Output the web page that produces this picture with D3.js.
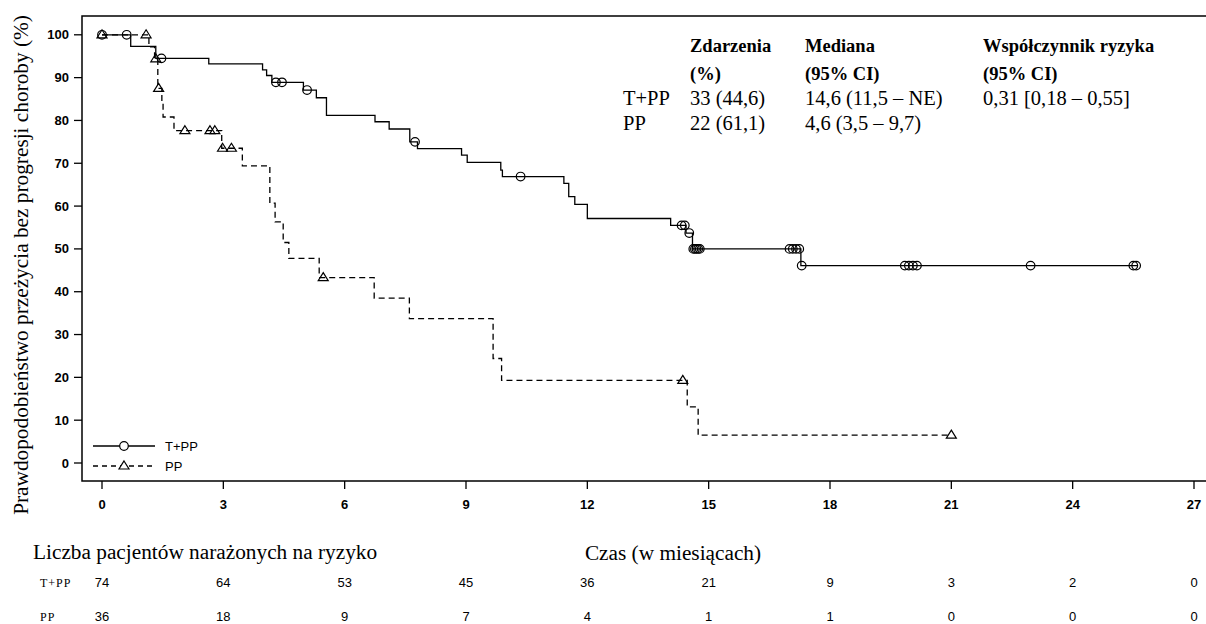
<!DOCTYPE html>
<html>
<head>
<meta charset="utf-8">
<script src="https://cdn.jsdelivr.net/npm/d3@7"></script>
<style>
  body { margin: 0; background: white; }
  svg { display: block; }
</style>
</head>
<body>
<svg class="km" width="1206" height="624"></svg>
<script>
const width = 1206;
const height = 624;
const serif = "'Liberation Serif', 'Times New Roman', serif";
const sans = "'Liberation Sans', Arial, sans-serif";

// step data: [month, survival %]
const tppTimes = [0, 0.71, 1.33, 2.64, 3.97, 4.07, 4.2, 4.98, 5.3, 5.55, 6.75, 7.1, 7.61, 7.8, 8.89, 9.03, 9.86, 9.9, 11.42, 11.54, 11.69, 12.0, 14.06, 14.44, 14.6, 17.28];
const tppSurv = [100, 97.3, 94.5, 93.2, 91.8, 90.5, 88.9, 87.1, 85.3, 81.2, 79.7, 78.0, 75.0, 73.4, 71.9, 70.2, 68.4, 66.9, 65.3, 62.2, 60.4, 57.1, 55.5, 53.7, 50.0, 46.1];
const tppEnd = 25.6;
const tppCensor = [0, 0.61, 1.47, 4.3, 4.45, 5.07, 7.74, 10.35, 14.33, 14.41, 14.52, 14.62, 14.66, 14.7, 14.74, 14.78, 17.0, 17.08, 17.16, 17.24, 17.3, 19.85, 19.95, 20.05, 20.15, 22.96, 25.5, 25.57];

const ppTimes = [0, 1.16, 1.3, 1.38, 1.48, 1.51, 1.78, 2.96, 3.47, 4.15, 4.28, 4.48, 4.62, 5.37, 6.73, 7.6, 9.67, 9.88, 14.47, 14.74];
const ppSurv = [100, 97.2, 94.4, 87.5, 84.3, 80.8, 77.6, 73.5, 69.4, 60.7, 56.3, 51.5, 47.8, 43.3, 38.5, 33.7, 24.4, 19.3, 13.1, 6.5];
const ppEnd = 21.0;
const ppCensor = [0, 1.09, 1.33, 1.4, 2.05, 2.67, 2.79, 2.98, 3.2, 5.47, 14.36, 21.0];

const xTicks = [0, 3, 6, 9, 12, 15, 18, 21, 24, 27];
const yTicks = [0, 10, 20, 30, 40, 50, 60, 70, 80, 90, 100];

const riskTpp = [74, 64, 53, 45, 36, 21, 9, 3, 2, 0];
const riskPp = [36, 18, 9, 7, 4, 1, 1, 0, 0, 0];

const statHeader1 = ["Zdarzenia", "Mediana", "Współczynnik ryzyka"];
const statHeader2 = ["(%)", "(95% CI)", "(95% CI)"];
const statTpp = ["T+PP", "33 (44,6)", "14,6 (11,5 – NE)", "0,31 [0,18 – 0,55]"];
const statPp = ["PP", "22 (61,1)", "4,6 (3,5 – 9,7)", ""];

const frame = { left: 82, top: 16, right: 1206, bottom: 481 };

const x = d3.scaleLinear().domain([0, 27]).range([102, 1194]);
const y = d3.scaleLinear().domain([0, 100]).range([463, 34.8]);

const svg = d3.select("svg.km");
svg.append("rect").attr("width", width).attr("height", height).attr("fill", "white");

// frame (open on the right, like the original)
svg.append("path")
  .attr("d", `M${frame.right},${frame.top}H${frame.left}V${frame.bottom}H${frame.right}`)
  .attr("fill", "none")
  .attr("stroke", "black")
  .attr("stroke-width", 1.5);

// x axis ticks
const xAxis = svg.append("g");
xAxis.selectAll("line")
  .data(xTicks)
  .join("line")
  .attr("x1", (d) => x(d))
  .attr("x2", (d) => x(d))
  .attr("y1", frame.bottom)
  .attr("y2", frame.bottom + 8)
  .attr("stroke", "black")
  .attr("stroke-width", 1.3);
xAxis.selectAll("text")
  .data(xTicks)
  .join("text")
  .attr("x", (d) => x(d))
  .attr("y", 509)
  .attr("text-anchor", "middle")
  .attr("font-family", sans)
  .attr("font-size", 13)
  .attr("font-weight", "bold")
  .text((d) => d);

// y axis ticks
const yAxis = svg.append("g");
yAxis.selectAll("line")
  .data(yTicks)
  .join("line")
  .attr("x1", frame.left - 8)
  .attr("x2", frame.left)
  .attr("y1", (d) => y(d))
  .attr("y2", (d) => y(d))
  .attr("stroke", "black")
  .attr("stroke-width", 1.3);
yAxis.selectAll("text")
  .data(yTicks)
  .join("text")
  .attr("x", 69)
  .attr("y", (d) => y(d) + 4.5)
  .attr("text-anchor", "end")
  .attr("font-family", sans)
  .attr("font-size", 13)
  .attr("font-weight", "bold")
  .text((d) => d);

svg.append("text")
  .attr("transform", "translate(28,265) rotate(-90)")
  .attr("text-anchor", "middle")
  .attr("font-family", serif)
  .attr("font-size", 21.3)
  .text("Prawdopodobieństwo przeżycia bez progresji choroby (%)");

svg.append("text")
  .attr("x", 673)
  .attr("y", 560)
  .attr("text-anchor", "middle")
  .attr("font-family", serif)
  .attr("font-size", 21.3)
  .text("Czas (w miesiącach)");

// curves
function steps(times, surv, end) {
  const pts = times.map((t, i) => [t, surv[i]]);
  pts.push([end, surv[surv.length - 1]]);
  return pts;
}
function survAt(times, surv, t) {
  let v = surv[0];
  times.forEach((tt, i) => { if (tt <= t) v = surv[i]; });
  return v;
}

const line = d3.line()
  .x((d) => x(d[0]))
  .y((d) => y(d[1]))
  .curve(d3.curveStepAfter);

svg.append("path")
  .attr("d", line(steps(ppTimes, ppSurv, ppEnd)))
  .attr("fill", "none")
  .attr("stroke", "black")
  .attr("stroke-width", 1.3)
  .attr("stroke-dasharray", "6,4");

svg.append("path")
  .attr("d", line(steps(tppTimes, tppSurv, tppEnd)))
  .attr("fill", "none")
  .attr("stroke", "black")
  .attr("stroke-width", 1.3);

const triangle = "M0,-4.5L5,3.5L-5,3.5Z";

svg.append("g")
  .selectAll("path")
  .data(ppCensor)
  .join("path")
  .attr("transform", (d) => `translate(${x(d)},${y(survAt(ppTimes, ppSurv, d)) - 0.5})`)
  .attr("d", triangle)
  .attr("fill", "none")
  .attr("stroke", "black")
  .attr("stroke-width", 1.2);

svg.append("g")
  .selectAll("circle")
  .data(tppCensor)
  .join("circle")
  .attr("cx", (d) => x(d))
  .attr("cy", (d) => y(survAt(tppTimes, tppSurv, d)))
  .attr("r", 4.3)
  .attr("fill", "none")
  .attr("stroke", "black")
  .attr("stroke-width", 1.2);

// legend
const legendRows = [
  { name: "T+PP", y: 446, dash: null, marker: "circle" },
  { name: "PP", y: 466, dash: "5,4", marker: "triangle" },
];
const legend = svg.append("g");
legendRows.forEach((r) => {
  legend.append("line")
    .attr("x1", 93).attr("x2", 155)
    .attr("y1", r.y).attr("y2", r.y)
    .attr("stroke", "black")
    .attr("stroke-width", 1.3)
    .attr("stroke-dasharray", r.dash);
  if (r.marker === "circle") {
    legend.append("circle")
      .attr("cx", 124).attr("cy", r.y).attr("r", 4.3)
      .attr("fill", "white").attr("stroke", "black").attr("stroke-width", 1.2);
  } else {
    legend.append("path")
      .attr("transform", `translate(124,${r.y - 0.5})`)
      .attr("d", triangle)
      .attr("fill", "white").attr("stroke", "black").attr("stroke-width", 1.2);
  }
  legend.append("text")
    .attr("x", 165).attr("y", r.y + 4.5)
    .attr("font-family", sans)
    .attr("font-size", 13)
    .text(r.name);
});

// statistics table
const statCols = [690, 805, 983];
const stats = svg.append("g").attr("font-family", serif).attr("font-size", 20.5);
statHeader1.forEach((t, i) => {
  stats.append("text").attr("x", statCols[i]).attr("y", 52)
    .attr("font-weight", "bold").attr("font-size", 18.5).text(t);
});
statHeader2.forEach((t, i) => {
  stats.append("text").attr("x", statCols[i]).attr("y", 80)
    .attr("font-weight", "bold").attr("font-size", 18.5).text(t);
});
[[statTpp, 105], [statPp, 130]].forEach(([row, yy]) => {
  stats.append("text").attr("x", 623).attr("y", yy).text(row[0]);
  row.slice(1).forEach((t, i) => {
    stats.append("text").attr("x", statCols[i]).attr("y", yy).text(t);
  });
});

// number at risk
svg.append("text")
  .attr("x", 33)
  .attr("y", 559)
  .attr("font-family", serif)
  .attr("font-size", 21.3)
  .text("Liczba pacjentów narażonych na ryzyko");

[[ "T+PP", riskTpp, 587 ], [ "PP", riskPp, 621 ]].forEach(([name, vals, yy]) => {
  svg.append("text")
    .attr("x", 40).attr("y", yy)
    .attr("font-family", serif)
    .attr("font-size", 12)
    .attr("letter-spacing", 1)
    .text(name);
  svg.append("g")
    .selectAll("text")
    .data(vals)
    .join("text")
    .attr("x", (d, i) => x(xTicks[i]))
    .attr("y", yy)
    .attr("text-anchor", "middle")
    .attr("font-family", sans)
    .attr("font-size", 13)
    .text((d) => d);
});
</script>
</body>
</html>
